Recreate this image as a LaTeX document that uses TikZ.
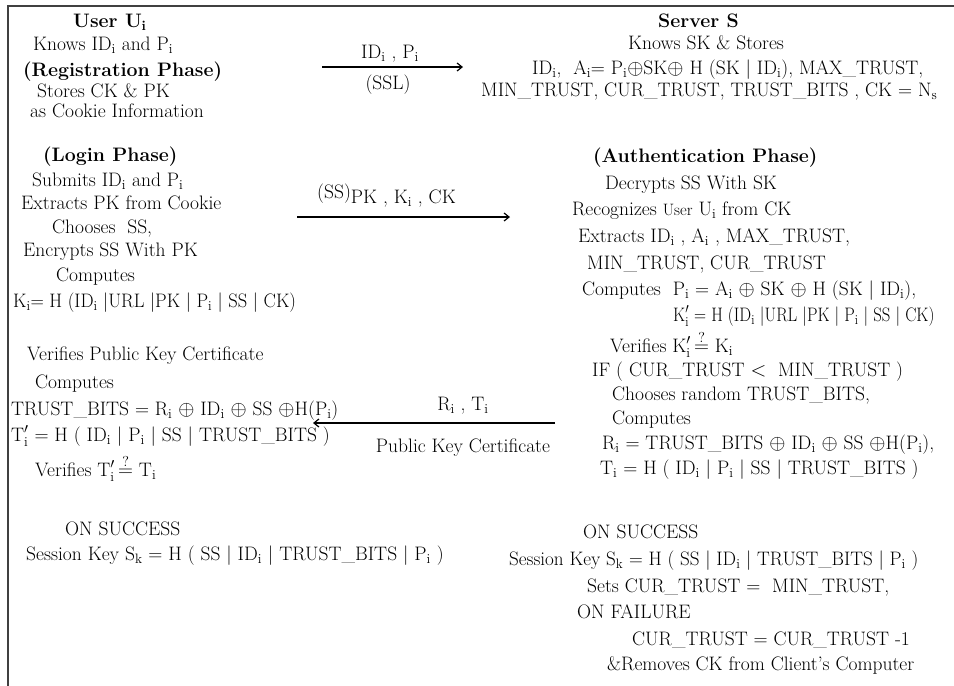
\documentclass[tikz,border=0pt]{standalone}
\usepackage{fontspec}
\usetikzlibrary{arrows.meta}
\newcommand{\si}{\ensuremath{_{\mathrm{i}}}}
\newcommand{\qm}{\ensuremath{\stackrel{?}{=}}}
\tikzset{
  txt/.style={anchor=base west, inner sep=0pt, font=\fontsize{19.5}{23}\selectfont},
  ctxt/.style={anchor=base, inner sep=0pt, font=\fontsize{19.5}{23}\selectfont},
  frame/.style={line width=2.2pt, black!75},
  msg/.style={line width=1.2pt, -{Straight Barb[length=5pt,width=8pt]}}
}
\begin{document}
\begin{tikzpicture}[x=1pt,y=-1pt]
\useasboundingbox (0,0) rectangle (954,686);
\clip (0,0) rectangle (954,686);
\fill[white] (0,0) rectangle (954,686);
% frame
\coordinate (ftl) at (8,6);
\coordinate (ftr) at (954,6);
\coordinate (fbl) at (8,686);
\draw[frame] (ftr) -- (ftl) -- (fbl);

% user registration block
\node[txt] (u1) at (73,27) {\textbf{User U$_{\mathbf{i}}$}};
\node[txt] (u2) at (33,50) {Knows ID\si{} and P\si};
\node[txt] (u3) at (23,76) {\textbf{(Registration Phase)}};
\node[txt] (u4) at (37,97) {Stores CK \& PK};
\node[txt] (u5) at (30,117) {as Cookie Information};

% registration message
\coordinate (a1s) at (322,67);
\coordinate (a1e) at (463,67);
\draw[msg] (a1s) -- (a1e);
\node[ctxt] (a1t) at (390,58) {ID\si{} , P\si};
\node[ctxt] (a1b) at (388,89) {(SSL)};

% server block
\node[txt] (s1) at (658,27) {\textbf{Server S}};
\node[txt] (s2) at (628,49) {Knows SK \& Stores};
\node[txt] (s3) at (532,74) {ID\si,\ \ A\si= P\si$\oplus$SK$\oplus$ H (SK | ID\si), MAX\_TRUST,};
\node[txt] (s4) at (481,96) {MIN\_TRUST, CUR\_TRUST, TRUST\_BITS , CK = N$_{\mathrm{s}}$};

% login phase
\node[txt] (l1) at (43,161) {\textbf{(Login Phase)}};
\node[txt] (l2) at (32,186) {Submits ID\si{} and P\si};
\node[txt] (l3) at (21,209) {Extracts PK from Cookie};
\node[txt] (l4) at (52,233) {Chooses\ \ SS,};
\node[txt] (l5) at (23,256) {Encrypts SS With PK};
\node[txt] (l6) at (56,281) {Computes};
\node[txt] (l7) at (13,307) {\scalebox{0.95}[1]{K\si= H (ID\si{} |URL |PK | P\si{} | SS | CK)}};

% login message
\coordinate (a2s) at (297,217);
\coordinate (a2e) at (510,217);
\draw[msg] (a2s) -- (a2e);
\node[txt] (a2t) at (317,203) {\raisebox{5pt}{(SS)}PK , K\si{} , CK};

% authentication phase
\node[txt] (r1) at (593,162) {\textbf{(Authentication Phase)}};
\node[txt] (r2) at (605,189) {Decrypts SS With SK};
\node[txt] (r3) at (572,215) {Recognizes {\fontsize{16.5}{20}\selectfont User} U\si{} from CK};
\node[txt] (r4) at (578,242) {Extracts ID\si{} , A\si{} , MAX\_TRUST,};
\node[txt] (r5) at (587,269) {MIN\_TRUST, CUR\_TRUST};
\node[txt] (r6) at (582,295) {Computes\ \ P\si{} = A\si{} $\oplus$ SK $\oplus$ H (SK | ID\si),};
\node[txt] (r7) at (673,321) {\scalebox{0.86}[1]{K$'_{\mathrm{i}}$ = H (ID\si{} |URL |PK | P\si{} | SS | CK)}};
\node[txt] (r8) at (610,352) {Verifies K$'_{\mathrm{i}}$\,\qm{} K\si};
\node[txt] (r9) at (592,376) {IF ( CUR\_TRUST $<$\ \ MIN\_TRUST )};
\node[txt] (r10) at (612,400) {Chooses random TRUST\_BITS,};
\node[txt] (r11) at (612,424) {Computes};
\node[txt] (r12) at (602,449) {R\si{} = TRUST\_BITS $\oplus$ ID\si{} $\oplus$ SS $\oplus$H(P\si),};
\node[txt] (r13) at (600,474) {T\si{} = H ( ID\si{} | P\si{} | SS | TRUST\_BITS )};
\node[txt] (r14) at (583,538) {ON SUCCESS};
\node[txt] (r15) at (509,565) {\scalebox{0.98}[1]{Session Key S$_{\mathrm{k}}$ = H ( SS | ID\si{} | TRUST\_BITS | P\si{} )}};
\node[txt] (r16) at (587,592) {Sets CUR\_TRUST =\ \ MIN\_TRUST,};
\node[txt] (r17) at (577,618) {ON FAILURE};
\node[txt] (r18) at (632,645) {CUR\_TRUST = CUR\_TRUST -1};
\node[txt] (r19) at (607,670) {\&Removes CK from Client's Computer};

% reply message
\coordinate (a3s) at (555,423);
\coordinate (a3e) at (313,423);
\draw[msg] (a3s) -- (a3e);
\node[ctxt] (a3t) at (463,410) {R\si{} , T\si};
\node[ctxt] (a3b) at (463,452) {Public Key Certificate};

% user verification
\node[txt] (m1) at (27,360) {Verifies Public Key Certificate};
\node[txt] (m2) at (35,388) {Computes};
\node[txt] (m3) at (11,415) {TRUST\_BITS = R\si{} $\oplus$ ID\si{} $\oplus$ SS $\oplus$H(P\si)};
\node[txt] (m4) at (11,441) {T$'_{\mathrm{i}}$ = H ( ID\si{} | P\si{} | SS | TRUST\_BITS )};
\node[txt] (m5) at (35,476) {Verifies T$'_{\mathrm{i}}$\,\qm{} T\si};
\node[txt] (m6) at (65,535) {ON SUCCESS};
\node[txt] (m7) at (26,560) {Session Key S$_{\mathrm{k}}$ = H ( SS | ID\si{} | TRUST\_BITS | P\si{} )};
\end{tikzpicture}
\end{document}
